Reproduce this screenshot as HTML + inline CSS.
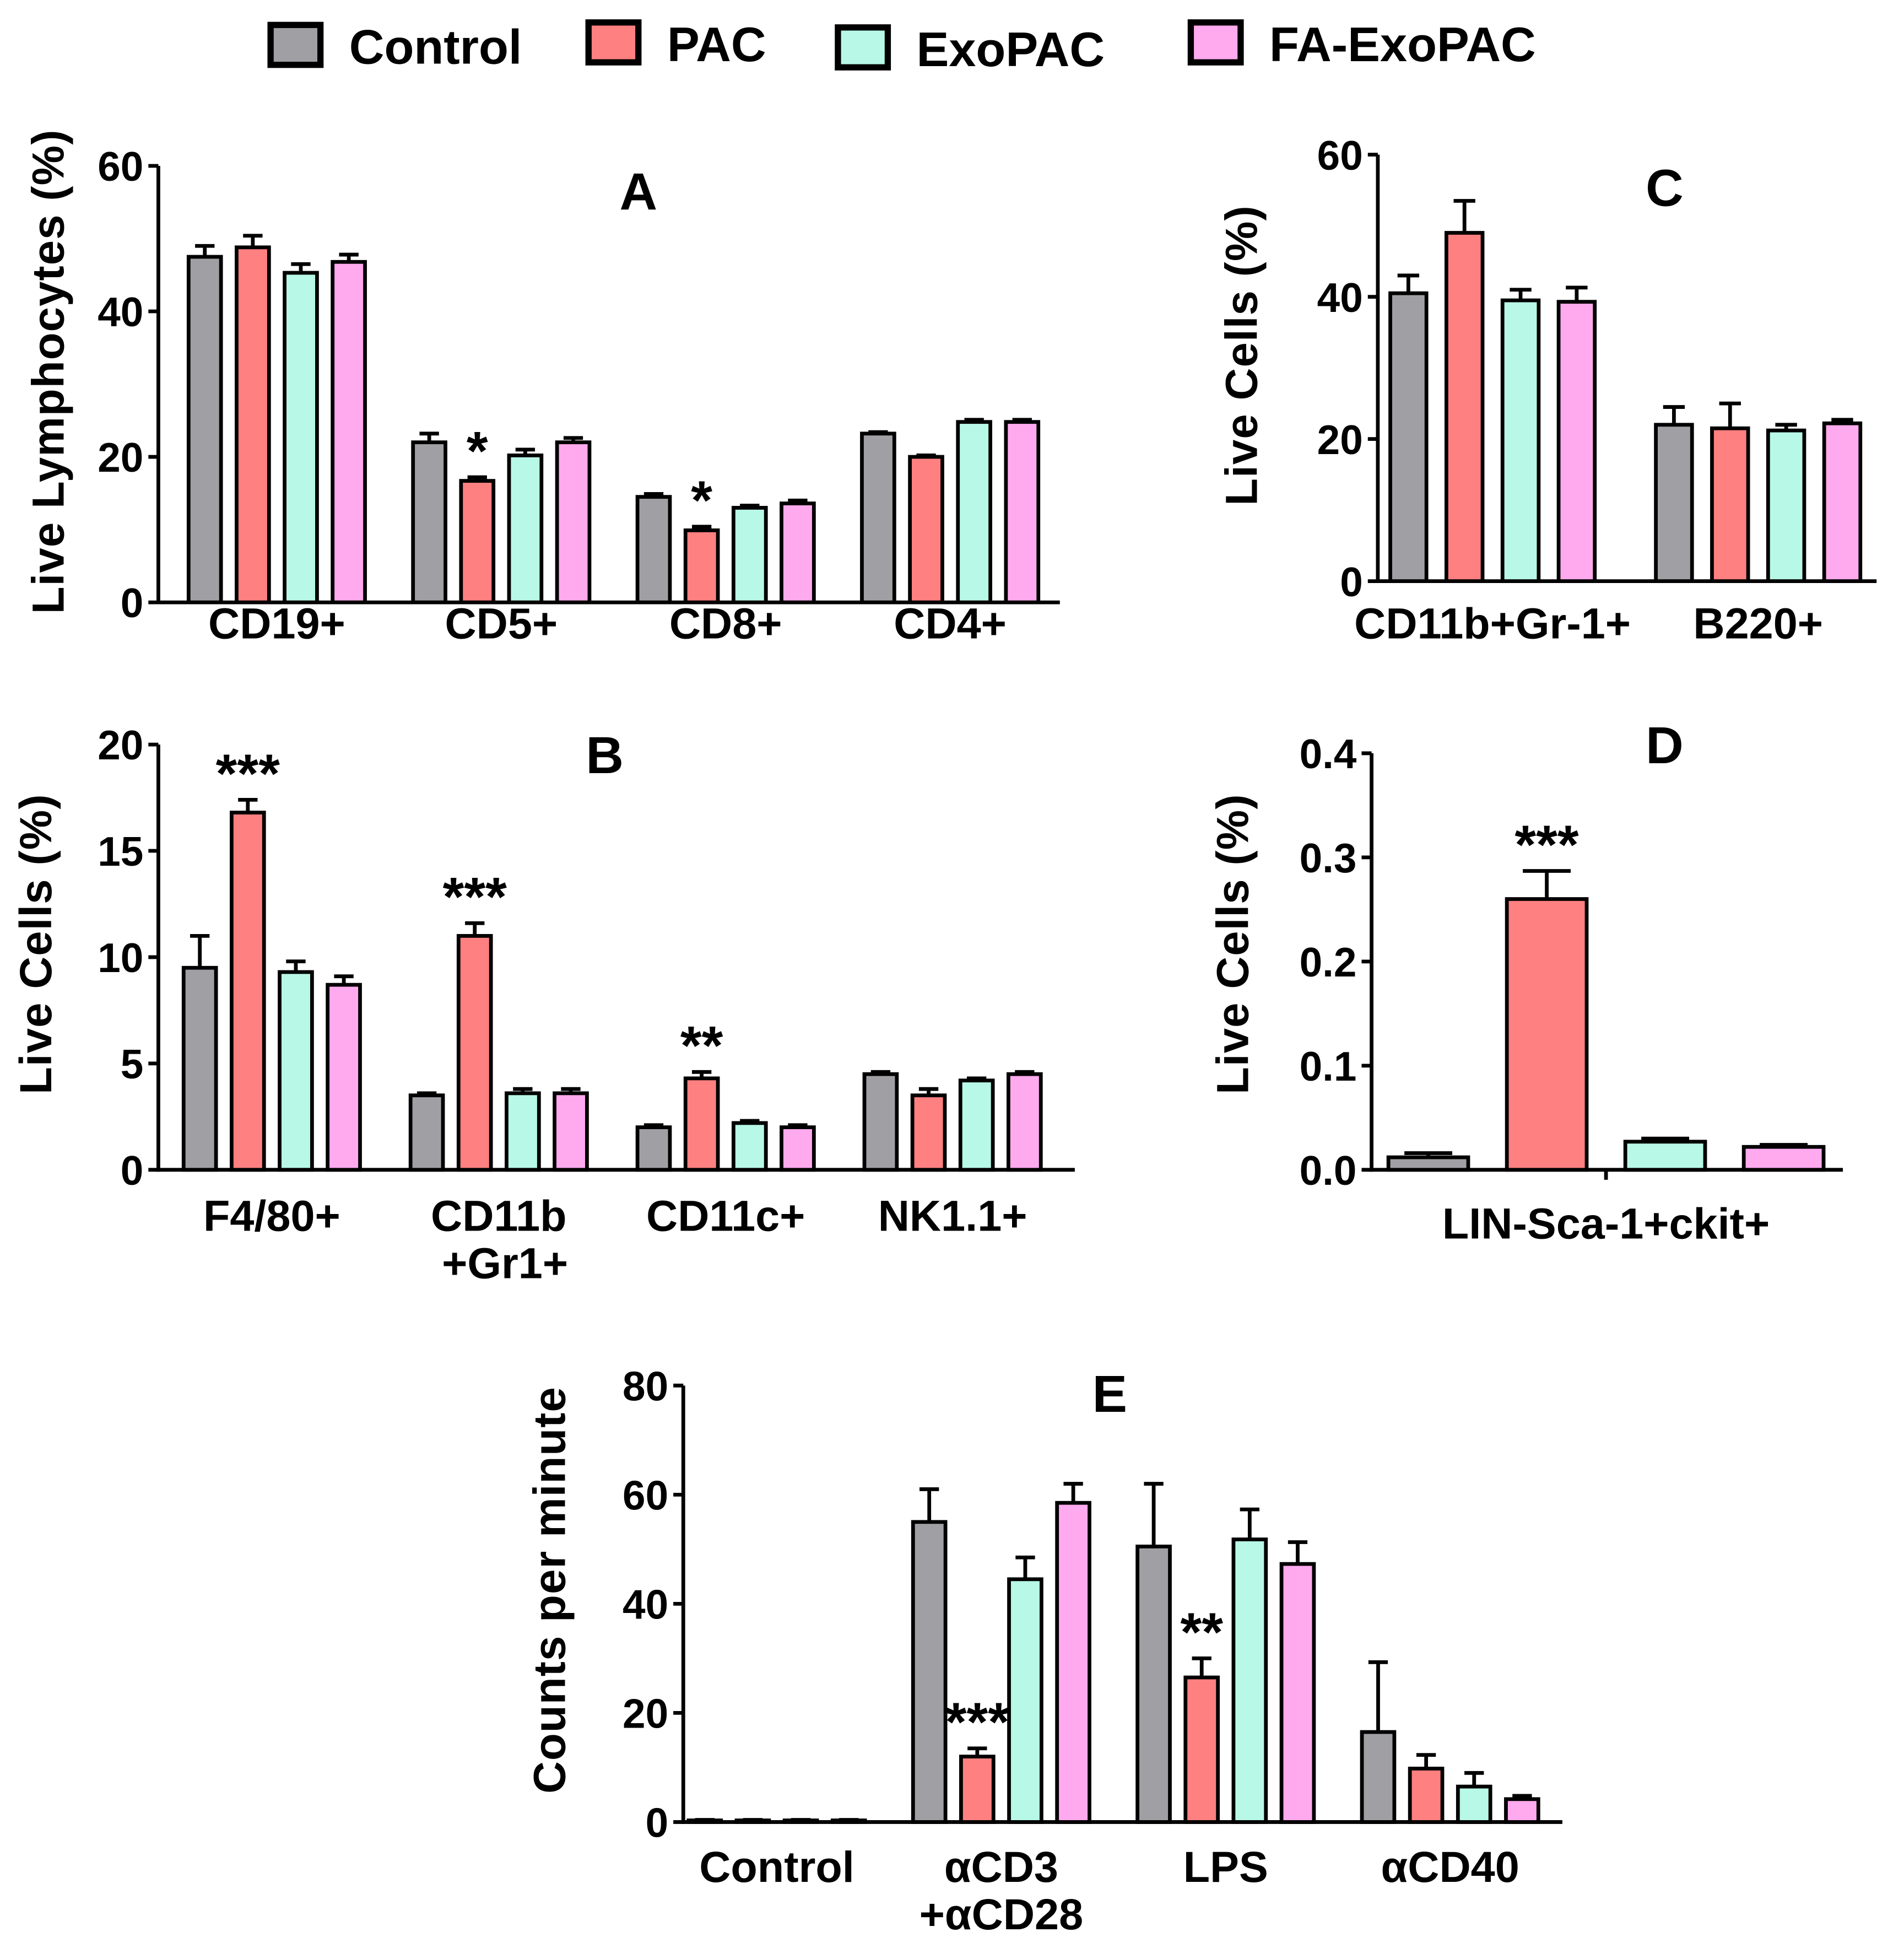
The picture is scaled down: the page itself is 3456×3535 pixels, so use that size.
<!DOCTYPE html>
<html><head><meta charset="utf-8"><style>
html,body{margin:0;padding:0;background:#fff}
svg{display:block}
text{font-family:"Liberation Sans",Arial,sans-serif;font-weight:bold;fill:#000}
</style></head><body>
<svg id="fig" width="3456" height="3535" viewBox="0 0 1527 1562" preserveAspectRatio="none" xmlns="http://www.w3.org/2000/svg">
<g id="legend"></g>
</svg>
<script>
const seriesNames=["Control","PAC","ExoPAC","FA-ExoPAC"];
const colors=["#a09fa4","#ff8080","#b8f8e6","#ffaaee"];
// Panel A
const catsA=[["CD19+"],["CD5+"],["CD8+"],["CD4+"]];
const valsA=[[47.5,48.8,45.3,46.8],[22,16.7,20.2,22],[14.5,9.9,13,13.6],[23.2,20,24.8,24.8]];
const errA=[[1.5,1.6,1.2,1],[1.2,0.5,0.8,0.6],[0.4,0.5,0.3,0.4],[0.2,0.2,0.3,0.3]];
const starsA=[["","","",""],["","*","",""],["","*","",""],["","","",""]];
const ticksA=[0,20,40,60];
// Panel B
const catsB=[["F4/80+"],["CD11b","+Gr1+"],["CD11c+"],["NK1.1+"]];
const valsB=[[9.5,16.8,9.3,8.7],[3.5,11,3.6,3.6],[2,4.3,2.2,2],[4.5,3.5,4.2,4.5]];
const errB=[[1.5,0.6,0.5,0.4],[0.1,0.6,0.2,0.2],[0.1,0.3,0.1,0.1],[0.1,0.3,0.1,0.1]];
const starsB=[["","***","",""],["","***","",""],["","**","",""],["","","",""]];
const ticksB=[0,5,10,15,20];
// Panel C
const catsC=[["CD11b+Gr-1+"],["B220+"]];
const valsC=[[40.5,49,39.5,39.3],[22,21.5,21.2,22.2]];
const errC=[[2.5,4.5,1.5,2],[2.5,3.5,0.8,0.5]];
const starsC=[["","","",""],["","","",""]];
const ticksC=[0,20,40,60];
// Panel D
const catsD=[["LIN-Sca-1+ckit+"]];
const valsD=[[0.012,0.26,0.027,0.022]];
const errD=[[0.004,0.027,0.003,0.002]];
const starsD=[["","***","",""]];
const ticksD=[0.0,0.1,0.2,0.3,0.4];
const tickLabelsD=["0.0","0.1","0.2","0.3","0.4"];
// Panel E
const catsE=[["Control"],["\u03b1CD3","+\u03b1CD28"],["LPS"],["\u03b1CD40"]];
const valsE=[[0.3,0.3,0.3,0.3],[55,12,44.5,58.5],[50.5,26.5,51.8,47.3],[16.5,9.8,6.5,4.2]];
const errE=[[0.1,0.1,0.1,0.1],[6,1.5,4,3.5],[11.5,3.5,5.5,4],[12.8,2.5,2.5,0.6]];
const starsE=[["","","",""],["","***","",""],["","**","",""],["","","",""]];
const ticksE=[0,20,40,60,80];

const NS="http://www.w3.org/2000/svg";
const svg=document.getElementById("fig");
function mk(tag,attrs,parent){const e=document.createElementNS(NS,tag);for(const k in attrs)e.setAttribute(k,attrs[k]);(parent||svg).appendChild(e);return e;}

function panel(cfg){
  const g=mk("g",{});
  
  
  const ymax=cfg.ticks[cfg.ticks.length-1];
  const y=v=>cfg.y0-(v/ymax)*(cfg.y0-cfg.ytop);
  const ya=mk("line",{x1:cfg.x0,y1:cfg.ytop,x2:cfg.x0,y2:cfg.y0+1.5,stroke:"#000","stroke-width":3},g);
  
  
  const xa=mk("line",{x1:cfg.x0-1.5,y1:cfg.y0,x2:cfg.x1,y2:cfg.y0,stroke:"#000","stroke-width":3},g);
  
  
  cfg.ticks.forEach((t,i)=>{
    mk("line",{x1:cfg.x0-8,y1:y(t),x2:cfg.x0,y2:y(t),stroke:"#000","stroke-width":3},g);
    const tl=mk("text",{x:cfg.x0-12,y:y(t)+12,"text-anchor":"end","font-size":33},g);
    tl.textContent=cfg.tickLabels?cfg.tickLabels[i]:String(t);
    
    
  });
  const yt=mk("text",{x:0,y:0,"text-anchor":"middle","font-size":36,"letter-spacing":0.5,transform:`translate(${cfg.ytx},${cfg.yty}) rotate(-90)`},g);
  yt.textContent=cfg.ytitle;
  
  
  const lt=mk("text",{x:cfg.lx,y:cfg.ly,"text-anchor":"middle","font-size":42},g);
  lt.textContent=cfg.letter;
  
  
  cfg.cats.forEach((c,gi)=>{
    const cx=cfg.c0+gi*cfg.gstep;
    if(cfg.catTick) mk("line",{x1:cx,y1:cfg.y0,x2:cx,y2:cfg.y0+8,stroke:"#000","stroke-width":3},g);
    c.forEach((line,li)=>{
      const t=mk("text",{x:cx+(li==1&&cfg.shift2?cfg.shift2:0),y:cfg.y0+cfg.lab+li*38,"text-anchor":"middle","font-size":35},g);
      t.textContent=line;
      
      
    });
    cfg.vals[gi].forEach((v,si)=>{
      const bx=cx+(si-1.5)*cfg.bstep-cfg.bw/2;
      const top=y(v), et=y(v+cfg.err[gi][si]);
      const mid=bx+cfg.bw/2;
      const eb=mk("path",{d:`M${mid},${top} V${et} M${mid-cfg.bw*0.3},${et} H${mid+cfg.bw*0.3}`,stroke:"#000","stroke-width":3,fill:"none"},g);
      
      
      const r=mk("rect",{x:bx,y:top,width:cfg.bw,height:Math.max(cfg.y0-top,0.5),fill:colors[si],stroke:"#000","stroke-width":3},g);
      
      
      const s=cfg.stars[gi][si];
      if(s){
        const st=mk("text",{x:mid,y:et-6,"text-anchor":"middle","font-size":44},g);
        st.textContent=s;
        
        
      }
    });
  });
}
panel({name:"panel-a",x0:127,x1:850,y0:483,ytop:133,ticks:ticksA,cats:catsA,vals:valsA,err:errA,stars:starsA,c0:222,gstep:180,bw:26,bstep:38.5,lab:29,ytitle:"Live Lymphocytes (%)",ytx:51,yty:298,letter:"A",lx:512,ly:168});
panel({name:"panel-b",x0:127,x1:862,y0:938,ytop:597,ticks:ticksB,cats:catsB,vals:valsB,err:errB,stars:starsB,c0:218,gstep:182,bw:26,bstep:38.5,lab:49,ytitle:"Live Cells (%)",ytx:41,yty:757,letter:"B",lx:485,ly:620,shift2:5});
panel({name:"panel-c",x0:1105,x1:1505,y0:466,ytop:124,ticks:ticksC,cats:catsC,vals:valsC,err:errC,stars:starsC,c0:1197,gstep:213,bw:29,bstep:45,lab:46,ytitle:"Live Cells (%)",ytx:1008,yty:285,letter:"C",lx:1335,ly:165});
panel({name:"panel-d",x0:1100,x1:1478,y0:938,ytop:604,ticks:ticksD,tickLabels:tickLabelsD,cats:catsD,vals:valsD,err:errD,stars:starsD,c0:1288,gstep:0,bw:64,bstep:95,lab:55,catTick:true,ytitle:"Live Cells (%)",ytx:1001,yty:757,letter:"D",lx:1335,ly:612});
panel({name:"panel-e",x0:548,x1:1253,y0:1461,ytop:1111,ticks:ticksE,cats:catsE,vals:valsE,err:errE,stars:starsE,c0:623,gstep:180,bw:26,bstep:38.5,lab:48,ytitle:"Counts per minute",ytx:453,yty:1275,letter:"E",lx:890,ly:1132});

// Legend
const leg=document.getElementById("legend");
const lx=[215,470,670,953];
const ly=[18,16,20,16];
seriesNames.forEach((n,i)=>{
  const r=mk("rect",{x:lx[i]+2,y:ly[i]+2,width:40,height:32,fill:colors[i],stroke:"#000","stroke-width":5},leg);
  
  
  const t=mk("text",{x:lx[i]+65,y:ly[i]+33,"font-size":39},leg);
  t.textContent=n;
  
  
});
</script>
</body></html>
